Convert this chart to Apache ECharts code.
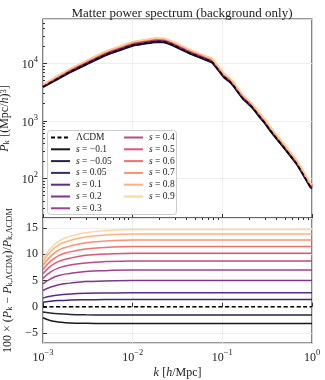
<!DOCTYPE html>
<html>
<head>
<meta charset="utf-8">
<script src="https://cdn.jsdelivr.net/npm/echarts@6/dist/echarts.min.js"></script>
<style>
  html, body { margin: 0; padding: 0; background: #fff; }
  #chart { width: 325px; height: 380px; }
</style>
</head>
<body>
<div id="chart"></div>
<script>
// top panel: k grid [h/Mpc] and LCDM P(k) [(Mpc/h)^3]
const kGrid = [0.001, 0.0015, 0.002, 0.003, 0.005, 0.007, 0.01, 0.014, 0.018, 0.022,
  0.027, 0.031, 0.037, 0.044, 0.052, 0.061, 0.07, 0.077, 0.085, 0.094,
  0.105, 0.12, 0.135, 0.15, 0.17, 0.19, 0.22, 0.26, 0.3, 0.34,
  0.4, 0.48, 0.57, 0.67, 0.8, 0.95, 1.0]
const pkLCDM = [3920, 5550, 7100, 9660, 14100, 17000, 20650, 22600, 23900, 23800,
  21400, 19400, 17000, 14900, 13500, 12200, 11200, 10500, 8700, 7140,
  5750, 4900, 3980, 3160, 2450, 2090, 1660, 1190, 912, 692,
  501, 355, 252, 182, 116, 73, 68]

// bottom panel: 100 x (Pk - Pk,LCDM)/Pk,LCDM
const kRatio = [0.001, 0.0012, 0.0015, 0.002, 0.003, 0.005, 0.01, 0.1, 1]
const seriesNames = ['ΛCDM', 's = −0.1', 's = −0.05', 's = 0.05', 's = 0.1', 's = 0.2',
  's = 0.3', 's = 0.4', 's = 0.5', 's = 0.6', 's = 0.7', 's = 0.8', 's = 0.9']
const ratioCurves = [
  [0, 0, 0, 0, 0, 0, 0, 0, 0],
  [-2.1, -2.6, -2.9, -3.1, -3.15, -3.18, -3.2, -3.2, -3.2],
  [-1.0, -1.2, -1.35, -1.45, -1.52, -1.56, -1.58, -1.58, -1.58],
  [0.86, 1.04, 1.18, 1.27, 1.33, 1.37, 1.39, 1.39, 1.39],
  [1.65, 2.0, 2.26, 2.42, 2.55, 2.62, 2.66, 2.66, 2.66],
  [3.1, 3.7, 4.2, 4.5, 4.8, 4.9, 4.98, 4.98, 4.98],
  [4.35, 5.25, 5.95, 6.35, 6.7, 6.88, 6.99, 6.99, 6.99],
  [5.4, 6.55, 7.4, 7.95, 8.35, 8.6, 8.72, 8.72, 8.72],
  [6.3, 7.65, 8.65, 9.25, 9.8, 10.05, 10.19, 10.19, 10.19],
  [7.1, 8.6, 9.75, 10.45, 11.0, 11.3, 11.48, 11.48, 11.48],
  [7.9, 9.5, 10.8, 11.55, 12.2, 12.5, 12.7, 12.7, 12.7],
  [8.6, 10.4, 11.8, 12.6, 13.3, 13.65, 13.86, 13.86, 13.86],
  [9.1, 11.0, 12.5, 13.4, 14.1, 14.5, 14.71, 14.71, 14.71]
]

// tick values
const xMinor = [0.002, 0.003, 0.004, 0.005, 0.006, 0.007, 0.008, 0.009,
  0.02, 0.03, 0.04, 0.05, 0.06, 0.07, 0.08, 0.09,
  0.2, 0.3, 0.4, 0.5, 0.6, 0.7, 0.8, 0.9]
const yMinor = [30, 40, 50, 60, 70, 80, 90, 200, 300, 400, 500, 600, 700, 800, 900,
  2000, 3000, 4000, 5000, 6000, 7000, 8000, 9000, 20000, 30000, 40000, 50000]

const palette = ['#000000', '#000004', '#0f0b2c', '#2a115c', '#4f127b', '#721f81',
  '#952c80', '#b5367a', '#d6456c', '#f1605d', '#fb8560', '#fea973', '#fecf92']

const serif = 'Liberation Serif'

// ratio at any k, straight between read points in log k
function ratioAt(row, k) {
  for (let i = 0; i < kRatio.length - 1; i++) {
    if (k <= kRatio[i + 1]) {
      let t = (Math.log10(k) - Math.log10(kRatio[i])) / (Math.log10(kRatio[i + 1]) - Math.log10(kRatio[i]))
      return row[i] + (row[i + 1] - row[i]) * t
    }
  }
  return row[row.length - 1]
}

function powLabel(v) {
  let e = Math.round(Math.log10(v))
  return '{b|10}{p|' + (e < 0 ? '−' + (-e) : e) + '}'
}

const powRich = {
  b: { fontFamily: serif, fontSize: 12, color: '#222', lineHeight: 16, verticalAlign: 'bottom' },
  p: { fontFamily: serif, fontSize: 8.5, color: '#222', lineHeight: 9, verticalAlign: 'top' }
}
const nameRich = {
  n: { fontFamily: serif, fontSize: 12, color: '#222' },
  i: { fontFamily: serif, fontSize: 12, color: '#222', fontStyle: 'italic' },
  s: { fontFamily: serif, fontSize: 8.5, color: '#222', verticalAlign: 'bottom', lineHeight: 10, padding: [6, 0, 0, 0] },
  p: { fontFamily: serif, fontSize: 8.5, color: '#222', verticalAlign: 'top', lineHeight: 9 }
}

let series = []
seriesNames.forEach((name, idx) => {
  let row = ratioCurves[idx]
  let dashed = idx === 0
  let line = {
    color: palette[idx],
    width: 1.5,
    type: dashed ? [4, 2.5] : 'solid',
    opacity: dashed ? 1 : 0.9
  }
  series.push({
    name: name,
    type: 'line',
    xAxisIndex: 0,
    yAxisIndex: 0,
    symbol: 'none',
    smooth: 0.2,
    color: palette[idx],
    lineStyle: line,
    z: dashed ? 3 : 2,
    data: kGrid.map((k, j) => [k, pkLCDM[j] * (1 + ratioAt(row, k) / 100)])
  })
  series.push({
    name: name,
    type: 'line',
    xAxisIndex: 1,
    yAxisIndex: 2,
    symbol: 'none',
    smooth: 0.5,
    color: palette[idx],
    lineStyle: line,
    z: dashed ? 3 : 2,
    data: kRatio.map((k, j) => [k, row[j]])
  })
})

const gridLine = { show: true, lineStyle: { color: '#ebebeb', width: 0.8 } }

// two legend columns inside one framed box
const legendBase = {
  orient: 'vertical',
  itemWidth: 19,
  itemHeight: 8,
  itemGap: 1.8,
  padding: 0,
  z: 12,
  itemStyle: { opacity: 0 },
  formatter: name => name.startsWith('s') ? '{i|s}' + name.slice(1) : name,
  textStyle: {
    fontFamily: serif, fontSize: 9.5, color: '#222', padding: [0, 0, 0, 1],
    rich: { i: { fontFamily: serif, fontSize: 9.5, fontStyle: 'italic', color: '#222' } }
  }
}

let chart = echarts.init(document.getElementById('chart'))
chart.setOption({
  animation: false,
  backgroundColor: '#fff',
  title: {
    text: 'Matter power spectrum (background only)',
    left: 177,
    textAlign: 'center',
    top: 2,
    textStyle: { fontFamily: serif, fontSize: 13, fontWeight: 'normal', color: '#222' }
  },
  grid: [
    { left: 43, right: 13, top: 19, height: 199, outerBoundsMode: 'none', show: true, borderColor: '#333', borderWidth: 1.2, backgroundColor: 'transparent' },
    { left: 43, right: 13, top: 218, height: 125, outerBoundsMode: 'none', show: true, borderColor: '#333', borderWidth: 1.2, backgroundColor: 'transparent' }
  ],
  graphic: [{
    type: 'rect',
    z: 11,
    shape: { x: 47.5, y: 130.5, width: 129, height: 84, r: 3 },
    style: { fill: 'rgba(255,255,255,0.85)', stroke: '#cccccc', lineWidth: 1 }
  }],
  legend: [
    Object.assign({}, legendBase, { left: 50, top: 132.5, data: seriesNames.slice(0, 7) }),
    Object.assign({}, legendBase, { left: 123, top: 132.5, data: seriesNames.slice(7) })
  ],
  xAxis: [
    {
      type: 'log', gridIndex: 0, min: 0.001, max: 1, logBase: 10,
      axisLine: { show: false },
      axisTick: { show: true, inside: true, length: 4, lineStyle: { color: '#333' } },
      axisLabel: { show: false },
      splitLine: gridLine
    },
    {
      type: 'log', gridIndex: 1, min: 0.001, max: 1, logBase: 10,
      axisLine: { show: false },
      axisTick: { show: true, inside: true, length: 4, lineStyle: { color: '#333' } },
      axisLabel: { formatter: powLabel, margin: 5, showMinLabel: true, showMaxLabel: true, rich: powRich },
      splitLine: gridLine,
      name: '{i|k} {n|[}{i|h}{n|/Mpc]}',
      nameLocation: 'middle',
      nameGap: 24,
      nameTextStyle: { rich: nameRich }
    },
    {
      type: 'log', gridIndex: 1, min: 0.001, max: 1, logBase: 10,
      axisLine: { show: false },
      axisTick: { show: true, inside: true, length: 2, customValues: xMinor, lineStyle: { color: '#333' } },
      axisLabel: { show: false },
      splitLine: { show: false }
    }
  ],
  yAxis: [
    {
      type: 'log', gridIndex: 0, min: 20.4, max: 59000, logBase: 10,
      axisLine: { show: false },
      axisTick: { show: true, inside: true, length: 4, lineStyle: { color: '#333' } },
      axisLabel: { formatter: powLabel, margin: 5, showMinLabel: false, showMaxLabel: false, rich: powRich },
      splitLine: gridLine,
      name: '{i|P}{s|k} {n|[(Mpc/}{i|h}{n|)}{p|3}{n|]}',
      nameLocation: 'middle',
      nameGap: 30,
      nameTextStyle: { rich: nameRich }
    },
    {
      type: 'log', gridIndex: 0, min: 20.4, max: 59000, logBase: 10, position: 'left',
      axisLine: { show: false },
      axisTick: { show: true, inside: true, length: 2, customValues: yMinor, lineStyle: { color: '#333' } },
      axisLabel: { show: false },
      splitLine: { show: false }
    },
    {
      type: 'value', gridIndex: 1, min: -6.9, max: 16.9, splitNumber: 5,
      axisLine: { show: false },
      axisTick: { show: true, inside: true, length: 4, lineStyle: { color: '#333' } },
      axisLabel: {
        formatter: v => v < 0 ? '−' + (-v) : '' + v,
        margin: 5, showMinLabel: false, showMaxLabel: false,
        fontFamily: serif, fontSize: 12, color: '#222'
      },
      splitLine: gridLine,
      name: '{n|100 × (}{i|P}{s|k}{n| − }{i|P}{s|k,ΛCDM}{n|)/}{i|P}{s|k,ΛCDM}',
      nameLocation: 'middle',
      nameGap: 27,
      nameTextStyle: { rich: nameRich }
    }
  ],
  series: series
})
</script>
</body>
</html>
